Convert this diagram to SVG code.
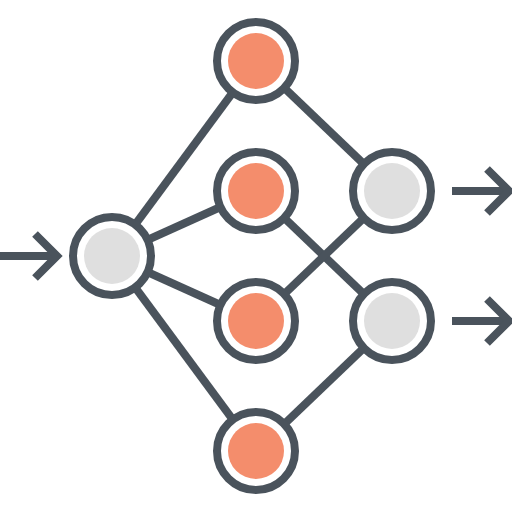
<svg xmlns="http://www.w3.org/2000/svg" width="512" height="512" viewBox="0 0 512 512">
<style>
.l{stroke:#4a535c;stroke-width:8;fill:none;stroke-linecap:butt;stroke-linejoin:miter}
.ring{fill:#fff;stroke:#4a535c;stroke-width:8}
.g{fill:#dfdfdf}
.o{fill:#f48d6c}
</style>
<rect width="512" height="512" fill="#fff"/>
<g id="connectors" class="l">
<line x1="112" y1="256" x2="256" y2="61"/>
<line x1="112" y1="256" x2="256" y2="191"/>
<line x1="112" y1="256" x2="256" y2="321"/>
<line x1="112" y1="256" x2="256" y2="451"/>
<line x1="256" y1="61" x2="392" y2="191"/>
<line x1="256" y1="191" x2="392" y2="321"/>
<line x1="256" y1="321" x2="392" y2="191"/>
<line x1="256" y1="451" x2="392" y2="321"/>
<line x1="0" y1="256" x2="56" y2="256"/>
<polyline points="35,234 57,256 35,278"/>
<line x1="452" y1="191" x2="508" y2="191"/>
<polyline points="487,169 509,191 487,213"/>
<line x1="452" y1="321" x2="508" y2="321"/>
<polyline points="487,299 509,321 487,343"/>
</g>
<g id="input"><circle class="ring" cx="112" cy="256" r="39"/><circle class="g" cx="112" cy="256" r="28"/></g>
<g id="h1"><circle class="ring" cx="256" cy="61" r="39"/><circle class="o" cx="256" cy="61" r="28"/></g>
<g id="h2"><circle class="ring" cx="256" cy="191" r="39"/><circle class="o" cx="256" cy="191" r="28"/></g>
<g id="h3"><circle class="ring" cx="256" cy="321" r="39"/><circle class="o" cx="256" cy="321" r="28"/></g>
<g id="h4"><circle class="ring" cx="256" cy="451" r="39"/><circle class="o" cx="256" cy="451" r="28"/></g>
<g id="out1"><circle class="ring" cx="392" cy="191" r="39"/><circle class="g" cx="392" cy="191" r="28"/></g>
<g id="out2"><circle class="ring" cx="392" cy="321" r="39"/><circle class="g" cx="392" cy="321" r="28"/></g>
</svg>
